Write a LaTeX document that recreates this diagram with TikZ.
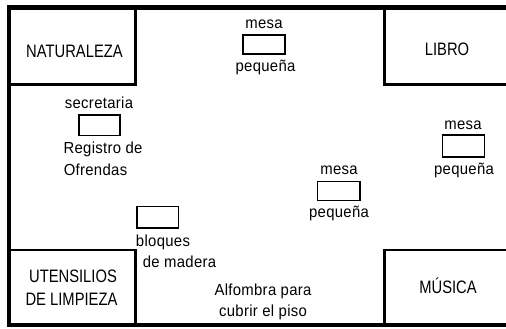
\documentclass[tikz,border=0pt]{standalone}
\usepackage{fontspec}
\setmainfont{Liberation Sans}
\newfontfamily\labfont{Liberation Sans}[FakeStretch=0.93,LetterSpace=2]
\newfontfamily\roomfont{Liberation Sans}[FakeStretch=0.82]
\tikzset{
  wall/.style={draw=black,line width=2.6pt,line cap=rect},
  outerwall/.style={draw=black,line width=4.2pt},
  tablebox/.style={draw=black,line width=1.4pt,fill=white},
  lab/.style={inner sep=0pt,text=black,font=\labfont\fontsize{16pt}{20pt}\selectfont,anchor=base},
  room/.style={inner sep=0pt,text=black,font=\roomfont\fontsize{18pt}{23pt}\selectfont,anchor=base}
}
\begin{document}
\begin{tikzpicture}[x=1pt,y=-1pt]
\useasboundingbox[fill=white] (0,0) rectangle (506,329);
% outer walls
\draw[outerwall] (506,7.5) -- (9,7.5) -- (9,325) -- (506,325);
% corner rooms
\draw[wall] (9,84.5) -- (135.5,84.5) -- (135.5,8);
\draw[wall] (506,84.5) -- (384.5,84.5) -- (384.5,8);
\draw[wall] (9,250) -- (135.5,250) -- (135.5,325);
\draw[wall] (506,250) -- (384.5,250) -- (384.5,325);
\node[room] (nat) at (74.5,58) {NATURALEZA};
\node[room] (lib) at (447,55.5) {LIBRO};
\node[room] (ute) at (73,282.5) {UTENSILIOS};
\node[room] (dlp) at (71.5,305.5) {DE LIMPIEZA};
\node[room] (mus) at (448,293) {MÚSICA};
% small tables
\draw[tablebox] (243,35) rectangle (285,54);
\node[lab] (m1a) at (264,29) {mesa};
\node[lab] (m1b) at (265.5,72) {pequeña};
\draw[tablebox] (79,115) rectangle (120,135.5);
\node[lab] (sec) at (99,108) {secretaria};
\node[lab] (reg) at (103,153.5) {Registro de};
\node[lab] (ofr) at (95.5,175) {Ofrendas};
\draw[tablebox] (137,206.5) rectangle (178.5,228);
\node[lab] (blo) at (163,246) {bloques};
\node[lab] (mad) at (179.5,267) {de madera};
\draw[tablebox] (317.5,181.5) rectangle (360,200.5);
\node[lab] (m2a) at (339,174.5) {mesa};
\node[lab] (m2b) at (339,217) {pequeña};
\draw[tablebox] (442.5,135) rectangle (484.5,157);
\node[lab] (m3a) at (463,129) {mesa};
\node[lab] (m3b) at (464,174.5) {pequeña};
\node[lab] (alf) at (263,295) {Alfombra para};
\node[lab] (cub) at (263,316) {cubrir el piso};
\end{tikzpicture}
\end{document}
